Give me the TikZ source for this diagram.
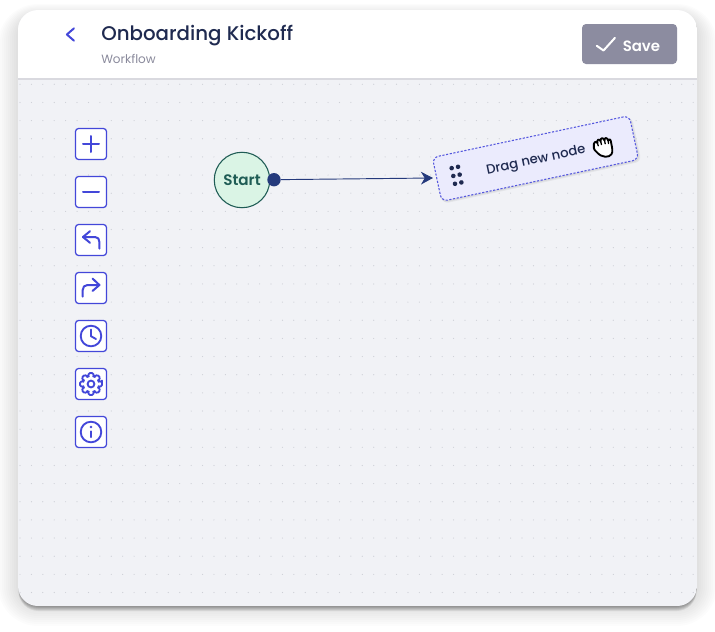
\documentclass[tikz,border=0pt]{standalone}
\usepackage{fontspec}
\usetikzlibrary{arrows.meta}
\setmainfont{Poppins}
\newfontfamily\popmed{Poppins Medium}
\newfontfamily\popsemi{Poppins SemiBold}
\definecolor{canvasbg}{HTML}{F1F2F6}
\definecolor{griddot}{HTML}{CDCFD6}
\definecolor{rulecol}{HTML}{D9D9DF}
\definecolor{iconblue}{HTML}{4347D9}
\definecolor{titlecol}{HTML}{1F2A50}
\definecolor{subcol}{HTML}{8A8A9C}
\definecolor{savecol}{HTML}{8C8CA0}
\definecolor{startfill}{HTML}{DAF4E5}
\definecolor{startline}{HTML}{1F5C55}
\definecolor{navy}{HTML}{253A7C}
\definecolor{dragfill}{HTML}{EBEBFD}
\definecolor{dragline}{HTML}{5558DE}
\tikzset{
  toolbtn/.style={draw=iconblue,line width=.95pt,fill=white,rounded corners=2.4pt,minimum width=23.3pt,minimum height=23.3pt,inner sep=0pt},
  glyph/.style={draw=iconblue,line width=1.5pt,line cap=round,line join=round},
  fineglyph/.style={draw=iconblue,line width=1.4pt,line cap=round,line join=round},
}
\begin{document}
\begin{tikzpicture}[x=.75pt,y=-.75pt]
\useasboundingbox (0,0) rectangle (715,632);
\fill[white] (0,0) rectangle (715,632);
% card shadow
\foreach \s in {20,18,...,2}{
  \fill[black,opacity=.012,rounded corners=\s*.75pt+15pt] (18-\s,10-\s*.6+6) rectangle (697+\s,606+\s);
}
\foreach \s in {0,...,5}{
  \fill[black,opacity=.075,rounded corners=15pt] (18+.5,10+\s) rectangle (697-.5,606+\s);
}
% card
\begin{scope}
  \clip[rounded corners=15pt] (18,10) rectangle (697,606);
  \fill[canvasbg] (18,10) rectangle (697,606);
  \fill[griddot] foreach \r in {0,...,28}{foreach \c in {0,...,59}{ ({20+11.41*\c},{84.3+18.15*\r}) circle[radius=.6] }};
  \fill[white] (18,10) rectangle (697,78);
  \fill[rulecol] (18,78) rectangle (697,79.6);
\end{scope}
% header
\draw[iconblue,line width=1.5pt,line cap=round,line join=round] (74,28.3) -- (66.9,34.5) -- (74,40.7);
\node[anchor=west,inner sep=0pt,text=titlecol,font=\popmed\fontsize{14.85pt}{18pt}\selectfont] (title) at (101,36) {Onboarding Kickoff};
\node[anchor=west,inner sep=0pt,text=subcol,font=\fontsize{9pt}{11pt}\selectfont] (subtitle) at (101,59) {Workflow};
\node[fill=savecol,rounded corners=3pt,minimum width=71.25pt,minimum height=30pt,inner sep=0pt] (savebtn) at (629.5,44) {};
\draw[white,line width=1.5pt,line cap=round,line join=round] (596.8,45.8) -- (603.5,50.5) -- (615,37.8);
\node[anchor=west,inner sep=0pt,text=white,font=\popsemi\fontsize{11.2pt}{14pt}\selectfont] (savelabel) at (622.5,46) {Save};
% toolbar
\node[toolbtn] (zoomin) at (91,144) {};
\node[toolbtn] (zoomout) at (91,192) {};
\node[toolbtn] (undo) at (91,240) {};
\node[toolbtn] (redo) at (91,288) {};
\node[toolbtn] (history) at (91,336) {};
\node[toolbtn] (settings) at (91,384) {};
\node[toolbtn] (info) at (91,432) {};
\draw[glyph] (83,144) -- (99,144) (91,136) -- (91,152);
\draw[glyph] (83,192) -- (99,192);
\draw[glyph] (90,231.2) -- (83,237) -- (90,242.8);
\draw[glyph] (83,237) -- (95,237) .. controls (98,237) and (99.4,239) .. (99.4,242) -- (99.4,248.6);
\draw[glyph] (92.5,278.5) -- (99.4,285) -- (92.5,291);
\draw[glyph] (99.4,285) -- (87.5,285) .. controls (84.5,285) and (82.7,287) .. (82.7,290) -- (82.7,296.6);
\draw[fineglyph] (91,336) circle[radius=10.3];
\draw[fineglyph] (91,329.5) -- (91,336.2) -- (96,339);
\draw[fineglyph,rounded corners=.9pt] ({91+11.2*cos(-11)},{384+11.2*sin(-11)})
  foreach \a in {0,45,...,315}{
    -- ({91+11.2*cos(\a+11)},{384+11.2*sin(\a+11)})
    -- ({91+8*cos(\a+21)},{384+8*sin(\a+21)}) -- ({91+8*cos(\a+24)},{384+8*sin(\a+24)})
    -- ({91+11.2*cos(\a+34)},{384+11.2*sin(\a+34)})
  } -- cycle;
\draw[fineglyph] (91,384) circle[radius=3.4];
\draw[fineglyph] (91,432) circle[radius=10.3];
\draw[iconblue,line width=1.7pt,line cap=round] (91,431.5) -- (91,437);
\fill[iconblue] (91,427) circle[radius=1.4];
% start
\node[circle,draw=startline,line width=.8pt,fill=startfill,minimum width=41.6pt,inner sep=0pt,text=startline,font=\popsemi\fontsize{11.4pt}{14pt}\selectfont] (startnode) at (242,180) {Start};
\node[circle,fill=navy,minimum width=10pt,inner sep=0pt] (port) at (274,179.7) {};
% drag node
\begin{scope}[shift={(535.5,158.5)},rotate=12]
  \fill[black,opacity=.05,rounded corners=4.5pt] (-100,-20.5) rectangle (103,25);
  \fill[black,opacity=.05,rounded corners=4.5pt] (-101,-21.5) rectangle (102,24);
\end{scope}
\node[draw=dragline,fill=dragfill,line width=.8pt,dash pattern=on 1.6pt off 1.2pt,rounded corners=4.5pt,rotate=12,minimum width=151pt,minimum height=33.6pt,inner sep=0pt] (dragnode) at (535.5,158.5) {};
\coordinate (droptip) at (433,178);
\draw[navy,line width=.7pt,-{Stealth[length=9pt,width=9.5pt,inset=2.8pt]}] (port) -- (droptip);
\begin{scope}[shift={(535.5,158.5)},rotate=12]
  \fill[titlecol] foreach \p in {(-84,-8),(-77.5,-8),(-84,0),(-77.5,0),(-84,8),(-77.5,8)}{ \p circle[radius=2.3] };
\end{scope}
\node[rotate=12,inner sep=0pt,text=titlecol,font=\popmed\fontsize{9.9pt}{12pt}\selectfont] (draglabel) at (536,160.5) {Drag new node};
% hand
\begin{scope}[shift={(603,147.8)},rotate=12]
  \draw[black,fill=white,line width=1.4pt,line join=round,line cap=round]
    (-7,3) .. controls (-9.5,0) and (-9.5,-3) .. (-8,-6)
    .. controls (-7.5,-8) and (-5,-8) .. (-4.5,-6)
    .. controls (-4.5,-9.5) and (-1.5,-10) .. (-1,-7)
    .. controls (-.5,-10.5) and (2.5,-10.5) .. (3,-7)
    .. controls (3.5,-10) and (6.5,-9.5) .. (6.5,-6)
    .. controls (7.5,-8) and (9.5,-7) .. (9,-4)
    .. controls (9,2) and (9,6) .. (7,8)
    .. controls (4,11) and (-3,10) .. (-7,3) -- cycle;
  \draw[black,line width=1pt,line cap=round] (-4.5,-6) -- (-4.2,-3) (-1,-7) -- (-.8,-3.5) (3,-7) -- (3,-3.5) (6.5,-6) -- (6.3,-3);
\end{scope}
\end{tikzpicture}
\end{document}
